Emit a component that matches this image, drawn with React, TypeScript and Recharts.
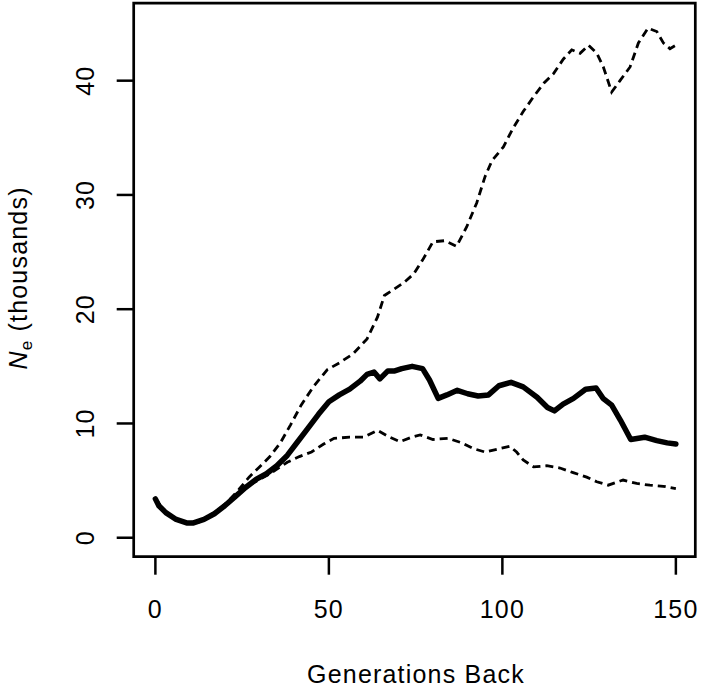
import React from "react";
import { LineChart, Line, XAxis, YAxis, ReferenceArea } from "recharts";

// Generations back (x) and effective population size in thousands (y)
const meanGen = [0, 1, 3, 6, 9, 11, 14, 17, 20, 23, 26, 29, 32, 35, 38, 41, 44, 47, 50, 53, 56, 59, 61, 63, 64.7, 67, 69, 71, 74, 77, 79, 81.5, 84, 87, 90, 93, 96, 99, 102.5, 106, 110, 113, 115, 117.5, 120.5, 124, 127, 129, 131.5, 134, 137, 141, 144.5, 147.5, 150];
const meanNe = [3.4, 2.8, 2.2, 1.6, 1.3, 1.3, 1.6, 2.1, 2.8, 3.6, 4.4, 5.1, 5.6, 6.3, 7.2, 8.4, 9.6, 10.8, 11.9, 12.5, 13.0, 13.7, 14.3, 14.5, 13.9, 14.6, 14.6, 14.8, 15.0, 14.8, 13.8, 12.2, 12.5, 12.9, 12.6, 12.4, 12.5, 13.3, 13.6, 13.2, 12.3, 11.4, 11.1, 11.7, 12.2, 13.0, 13.1, 12.2, 11.6, 10.3, 8.6, 8.8, 8.5, 8.3, 8.2];

const upperGen = [0, 3, 6, 9, 12, 15, 18, 21, 24, 27, 30, 33, 36, 39, 42, 45.5, 49.5, 53, 57, 61, 64, 66, 68.5, 71.5, 74.5, 77, 80, 83.5, 86.8, 89.7, 92.6, 95, 97, 100.3, 103, 106, 109, 112, 114.7, 117.6, 120, 122.4, 124.8, 127.2, 129.1, 131.5, 133.9, 136.8, 139.2, 142, 144.5, 146.4, 148.3, 150];
const upperNe = [3.4, 2.2, 1.6, 1.3, 1.4, 1.8, 2.4, 3.2, 4.2, 5.3, 6.2, 7.1, 8.3, 9.9, 11.6, 13.2, 14.7, 15.3, 16.1, 17.4, 19.3, 21.2, 21.7, 22.3, 23.1, 24.3, 25.9, 26.0, 25.5, 27.2, 29.3, 31.6, 33.0, 34.2, 35.8, 37.3, 38.6, 39.8, 40.6, 41.9, 42.7, 42.4, 43.1, 42.4, 41.2, 39.0, 40.0, 41.2, 43.3, 44.6, 44.3, 43.3, 42.8, 43.1];

const lowerGen = [0, 3, 6, 9, 12, 15, 18, 21, 24, 27, 30, 33, 36, 38, 41.5, 45, 48.5, 51.5, 56, 60, 64, 67.5, 70.5, 73.9, 76.3, 80, 84.4, 88.3, 91.6, 95, 99.3, 102.2, 104.1, 106, 109, 112.8, 116.6, 120.4, 124.3, 127.2, 130.5, 134.8, 138.7, 142.5, 146.4, 150];
const lowerNe = [3.4, 2.2, 1.6, 1.3, 1.3, 1.7, 2.3, 3.0, 3.8, 4.6, 5.1, 5.6, 6.2, 6.6, 7.1, 7.5, 8.2, 8.7, 8.8, 8.8, 9.4, 8.8, 8.4, 8.8, 9.0, 8.6, 8.7, 8.3, 7.8, 7.5, 7.8, 8.0, 7.5, 6.8, 6.2, 6.3, 6.1, 5.7, 5.3, 4.9, 4.6, 5.05, 4.75, 4.6, 4.5, 4.3];

const xTicks = [0, 50, 100, 150];
const yTicks = [0, 10, 20, 30, 40];
const xDomain: [number, number] = [-6.25, 155.6];
const yDomain: [number, number] = [-1.66, 46.78];

const pair = (gs: number[], vs: number[]) => gs.map((g, i) => ({ g, v: vs[i] }));
const meanData = pair(meanGen, meanNe);
const upperData = pair(upperGen, upperNe);
const lowerData = pair(lowerGen, lowerNe);

const FONT = "'Liberation Sans', Arial, Helvetica, sans-serif";
const FS = 25;
const LS = 1.2;

const XTick = (props: any) => {
  const { x, payload } = props;
  return (
    <text x={x} y={618.3} textAnchor="middle" fontFamily={FONT} fontSize={FS} letterSpacing={LS} fill="#000">
      {payload.value}
    </text>
  );
};

const YTick = (props: any) => {
  const { y, payload } = props;
  const bx = 94;
  return (
    <text
      x={bx}
      y={y}
      transform={`rotate(-90, ${bx}, ${y})`}
      textAnchor="middle"
      fontFamily={FONT}
      fontSize={FS}
      letterSpacing={LS}
      fill="#000"
    >
      {payload.value}
    </text>
  );
};

const YTitle = (props: any) => {
  const vb = props.viewBox || { x: 0, y: 3.2, width: 133.7, height: 553.5 };
  const cy = vb.y + vb.height / 2 - 2;
  const bx = 27;
  return (
    <text
      x={bx}
      y={cy}
      transform={`rotate(-90, ${bx}, ${cy})`}
      textAnchor="middle"
      fontFamily={FONT}
      fontSize={FS}
      letterSpacing={LS}
      fill="#000"
    >
      <tspan fontStyle="italic">N</tspan>
      <tspan fontSize={17} dy={5}>e</tspan>
      <tspan dy={-5}> (thousands)</tspan>
    </text>
  );
};

const XTitle = (props: any) => {
  const vb = props.viewBox || { x: 133.7, y: 556.7, width: 561.6, height: 130.3 };
  const cx = vb.x + vb.width / 2 + 1.5;
  return (
    <text x={cx} y={683.3} textAnchor="middle" fontFamily={FONT} fontSize={FS} letterSpacing={LS} fill="#000">
      Generations Back
    </text>
  );
};

export default function App() {
  return (
    <div style={{ position: "absolute", left: 0, top: 0, width: 701, height: 687, background: "#fff" }}>
      <LineChart
        width={701}
        height={687}
        margin={{ top: 3.2, right: 5.7, bottom: 0, left: 0 }}
        style={{ background: "#fff" }}
      >
        <XAxis
          type="number"
          dataKey="g"
          domain={xDomain}
          ticks={xTicks}
          allowDataOverflow
          axisLine={false}
          tickSize={18}
          tickLine={{ stroke: "#000", strokeWidth: 2.5 }}
          tick={<XTick />}
          height={130.3}
          label={<XTitle />}
        />
        <YAxis
          type="number"
          dataKey="v"
          domain={yDomain}
          ticks={yTicks}
          allowDataOverflow
          axisLine={false}
          tickSize={17}
          tickLine={{ stroke: "#000", strokeWidth: 2.5 }}
          tick={<YTick />}
          width={133.7}
          label={<YTitle />}
        />
        <ReferenceArea
          x1={xDomain[0]}
          x2={xDomain[1]}
          y1={yDomain[0]}
          y2={yDomain[1]}
          fill="none"
          fillOpacity={0}
          stroke="#000"
          strokeWidth={2.7}
          ifOverflow="visible"
        />
        <Line
          data={upperData}
          dataKey="v"
          type="linear"
          stroke="#000"
          strokeWidth={2.8}
          strokeDasharray="8 5"
          dot={false}
          activeDot={false}
          isAnimationActive={false}
        />
        <Line
          data={lowerData}
          dataKey="v"
          type="linear"
          stroke="#000"
          strokeWidth={2.8}
          strokeDasharray="8 5"
          dot={false}
          activeDot={false}
          isAnimationActive={false}
        />
        <Line
          data={meanData}
          dataKey="v"
          type="linear"
          stroke="#000"
          strokeWidth={5.5}
          strokeLinejoin="round"
          strokeLinecap="round"
          dot={false}
          activeDot={false}
          isAnimationActive={false}
        />
      </LineChart>
    </div>
  );
}
